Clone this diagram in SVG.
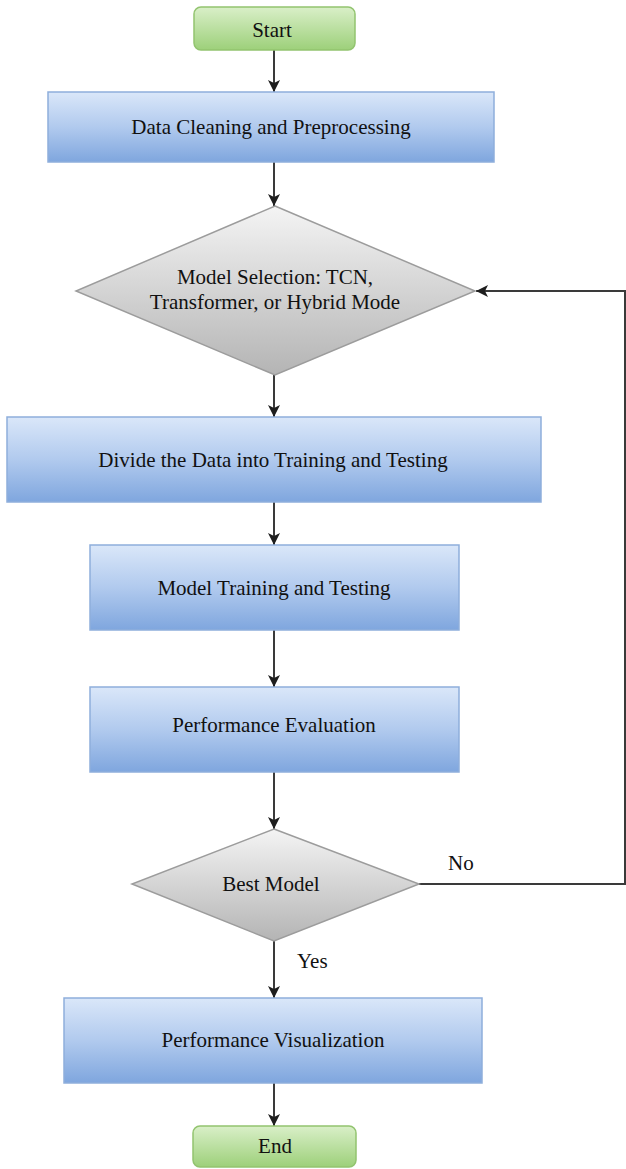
<svg xmlns="http://www.w3.org/2000/svg" width="626" height="1169" viewBox="0 0 626 1169">
  <defs>
    <style>
      .box { fill: url(#blueGrad); stroke: #8eaedb; stroke-width: 1.5; }
      .term { fill: url(#greenGrad); stroke: #92c46f; stroke-width: 1.5; }
      .dec { fill: url(#grayGrad); stroke: #9c9c9c; stroke-width: 1.5; }
      .lbl { font-family: "Liberation Serif", "Times New Roman", serif; font-size: 21px; fill: #111; text-anchor: middle; }
      .edge-lbl { font-family: "Liberation Serif", "Times New Roman", serif; font-size: 21px; fill: #111; }
      .conn { fill: none; stroke: #3a3a3a; stroke-width: 2; }
    </style>
    <linearGradient id="blueGrad" x1="0" y1="0" x2="0" y2="1">
      <stop offset="0" stop-color="#dae7f9"/>
      <stop offset="0.5" stop-color="#b1caee"/>
      <stop offset="1" stop-color="#7fa6de"/>
    </linearGradient>
    <linearGradient id="greenGrad" x1="0" y1="0" x2="0" y2="1">
      <stop offset="0" stop-color="#d9efc8"/>
      <stop offset="1" stop-color="#9dd07a"/>
    </linearGradient>
    <linearGradient id="grayGrad" x1="0" y1="0" x2="0" y2="1">
      <stop offset="0" stop-color="#f4f4f4"/>
      <stop offset="1" stop-color="#b4b4b4"/>
    </linearGradient>
    <marker id="arrow" markerUnits="userSpaceOnUse" markerWidth="13" markerHeight="12" refX="12" refY="6" orient="auto">
      <path d="M0,0 L12,6 L0,12 L3,6 Z" fill="#1e1e1e"/>
    </marker>
  </defs>

  <rect width="626" height="1169" fill="#ffffff"/>

  <!-- connectors -->
  <g id="connectors">
    <line class="conn" x1="274" y1="50" x2="274" y2="92" marker-end="url(#arrow)"/>
    <line class="conn" x1="274" y1="162" x2="274" y2="206" marker-end="url(#arrow)"/>
    <line class="conn" x1="274" y1="375" x2="274" y2="417" marker-end="url(#arrow)"/>
    <line class="conn" x1="274" y1="502" x2="274" y2="545" marker-end="url(#arrow)"/>
    <line class="conn" x1="274" y1="630" x2="274" y2="687" marker-end="url(#arrow)"/>
    <line class="conn" x1="274" y1="772" x2="274" y2="829" marker-end="url(#arrow)"/>
    <line class="conn" x1="274" y1="941" x2="274" y2="998" marker-end="url(#arrow)"/>
    <line class="conn" x1="274" y1="1083" x2="274" y2="1126" marker-end="url(#arrow)"/>
    <polyline class="conn" points="419,884 625,884 625,291 476,291" marker-end="url(#arrow)"/>
    <text class="edge-lbl" x="448" y="870">No</text>
    <text class="edge-lbl" x="297" y="968">Yes</text>
  </g>

  <g id="start">
    <rect class="term" x="194" y="7" width="161" height="43" rx="7"/>
    <text class="lbl" x="272" y="37">Start</text>
  </g>

  <g id="cleaning">
    <rect class="box" x="48" y="92" width="446" height="70"/>
    <text class="lbl" x="271" y="134">Data Cleaning and Preprocessing</text>
  </g>

  <g id="model-selection">
    <polygon class="dec" points="275,206 475,291 275,375 76,291"/>
    <text class="lbl" x="275" y="284">Model Selection: TCN,</text>
    <text class="lbl" x="275" y="309">Transformer, or Hybrid Mode</text>
  </g>

  <g id="divide">
    <rect class="box" x="7" y="417" width="534" height="85"/>
    <text class="lbl" x="273" y="467">Divide the Data into Training and Testing</text>
  </g>

  <g id="training">
    <rect class="box" x="90" y="545" width="369" height="85"/>
    <text class="lbl" x="274" y="595">Model Training and Testing</text>
  </g>

  <g id="evaluation">
    <rect class="box" x="90" y="687" width="369" height="85"/>
    <text class="lbl" x="274" y="732">Performance Evaluation</text>
  </g>

  <g id="best-model">
    <polygon class="dec" points="274,829 419,884 274,941 132,884"/>
    <text class="lbl" x="271" y="891">Best Model</text>
  </g>

  <g id="visualization">
    <rect class="box" x="64" y="998" width="418" height="85"/>
    <text class="lbl" x="273" y="1047">Performance Visualization</text>
  </g>

  <g id="end">
    <rect class="term" x="193" y="1126" width="163" height="41" rx="7"/>
    <text class="lbl" x="275" y="1153">End</text>
  </g>
</svg>
